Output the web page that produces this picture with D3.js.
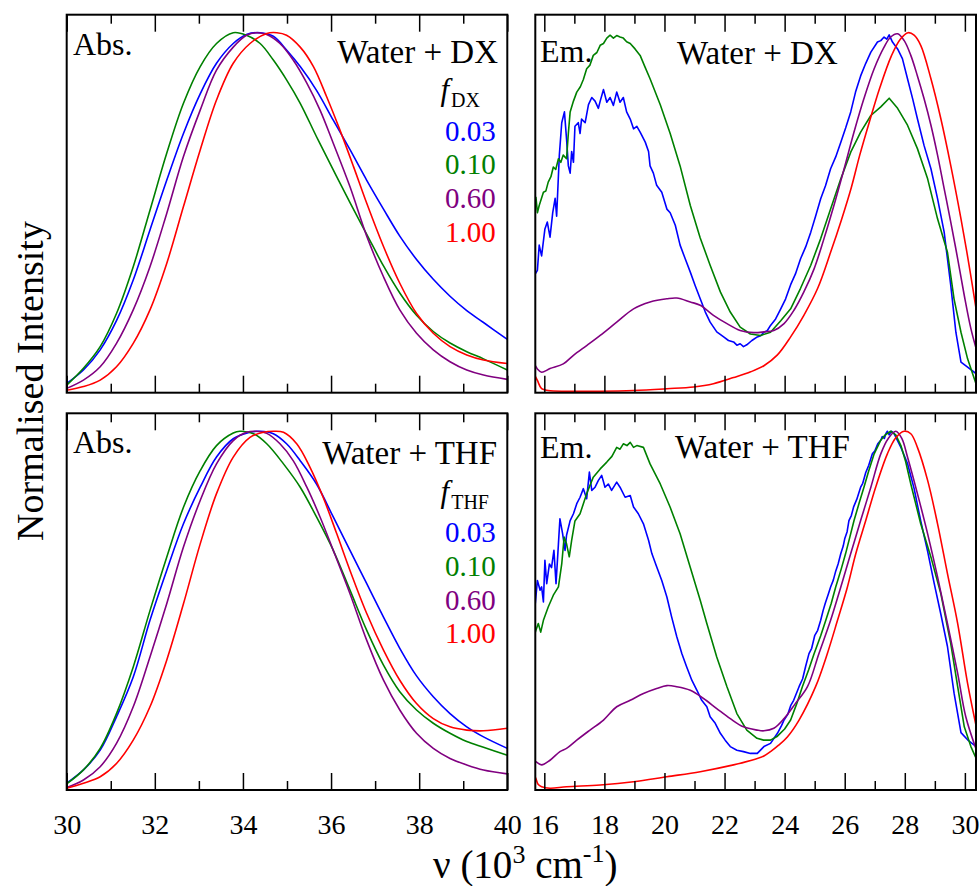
<!DOCTYPE html>
<html>
<head>
<meta charset="utf-8">
<script src="https://cdn.jsdelivr.net/npm/d3@7"></script>
<style>
  html, body { margin: 0; padding: 0; background: #ffffff; }
  svg text { font-family: "Liberation Serif", "Times New Roman", serif; }
</style>
</head>
<body>
<svg id="chart" width="980" height="886"></svg>
<script>
// ---- series styling and legend labels ----
const seriesColors = ["#0000ff", "#008000", "#800080", "#ff0000"];
const fractionLabels = ["0.03", "0.10", "0.60", "1.00"];

// ---- tick values ----
const absMajorTicks = [30, 32, 34, 36, 38, 40];
const absMinorTicks = [31, 33, 35, 37, 39];
const emMajorTicks = [16, 18, 20, 22, 24, 26, 28, 30];
const emMinorTicks = [17, 19, 21, 23, 25, 27, 29];

// ---- absorption, water + dioxane (wavenumber /1e3 cm^-1, normalised intensity) ----
const absDX003 = [[30,0.026],[30.38,0.063],[30.76,0.119],[31.13,0.20],[31.51,0.313],[31.89,0.452],[32.27,0.59],[32.65,0.72],[33.03,0.83],[33.4,0.915],[33.78,0.97],[34.08,0.995],[34.39,1.0],[34.69,0.99],[34.99,0.952],[35.3,0.906],[35.67,0.84],[36.05,0.757],[36.43,0.675],[36.81,0.59],[37.19,0.51],[37.56,0.435],[37.94,0.37],[38.32,0.315],[38.7,0.268],[39.08,0.228],[39.46,0.195],[40,0.148]];
const absDX010 = [[30,0.021],[30.38,0.068],[30.76,0.128],[31.13,0.22],[31.51,0.35],[31.89,0.507],[32.27,0.665],[32.65,0.804],[33.03,0.906],[33.4,0.97],[33.78,1.0],[34.08,0.993],[34.39,0.97],[34.69,0.924],[34.99,0.869],[35.3,0.804],[35.67,0.711],[36.05,0.619],[36.43,0.528],[36.81,0.44],[37.19,0.352],[37.56,0.277],[37.94,0.215],[38.32,0.17],[38.7,0.138],[39.08,0.114],[39.46,0.094],[40,0.063]];
const absDX060 = [[30,0.012],[30.38,0.035],[30.76,0.072],[31.13,0.137],[31.51,0.23],[31.89,0.35],[32.27,0.498],[32.65,0.656],[33.03,0.785],[33.4,0.896],[33.78,0.96],[34.08,0.993],[34.31,1.0],[34.54,0.995],[34.84,0.97],[35.14,0.924],[35.45,0.86],[35.75,0.785],[36.05,0.693],[36.43,0.572],[36.81,0.435],[37.19,0.322],[37.56,0.23],[37.94,0.165],[38.32,0.119],[38.7,0.086],[39.08,0.063],[39.46,0.049],[40,0.037]];
const absDX100 = [[30,0.007],[30.38,0.017],[30.76,0.035],[31.13,0.072],[31.51,0.137],[31.89,0.23],[32.27,0.359],[32.65,0.517],[33.03,0.674],[33.4,0.813],[33.78,0.915],[34.16,0.97],[34.54,0.998],[34.77,1.0],[34.99,0.993],[35.3,0.96],[35.6,0.906],[35.9,0.822],[36.2,0.73],[36.51,0.628],[36.81,0.526],[37.19,0.406],[37.56,0.304],[37.94,0.22],[38.32,0.165],[38.7,0.128],[39.08,0.105],[39.46,0.091],[40,0.081]];

// ---- absorption, water + THF ----
const absTHF003 = [[30,0.019],[30.38,0.056],[30.76,0.111],[31.13,0.204],[31.51,0.315],[31.89,0.473],[32.27,0.612],[32.65,0.742],[33.03,0.844],[33.4,0.928],[33.78,0.979],[34.16,0.997],[34.39,1.0],[34.69,0.993],[34.99,0.965],[35.3,0.918],[35.67,0.853],[36.05,0.761],[36.43,0.668],[36.81,0.575],[37.19,0.482],[37.56,0.395],[37.94,0.318],[38.32,0.26],[38.7,0.213],[39.08,0.176],[39.46,0.148],[40,0.116]];
const absTHF010 = [[30,0.017],[30.38,0.056],[30.76,0.116],[31.13,0.213],[31.51,0.343],[31.89,0.50],[32.27,0.649],[32.65,0.788],[33.03,0.89],[33.4,0.96],[33.78,0.995],[33.93,1.0],[34.24,0.993],[34.54,0.965],[34.92,0.909],[35.3,0.844],[35.67,0.761],[36.05,0.668],[36.43,0.557],[36.81,0.445],[37.19,0.348],[37.56,0.274],[37.94,0.223],[38.32,0.186],[38.7,0.158],[39.08,0.135],[39.46,0.119],[40,0.097]];
const absTHF060 = [[30,0.007],[30.38,0.028],[30.76,0.065],[31.13,0.13],[31.51,0.232],[31.89,0.371],[32.27,0.519],[32.65,0.677],[33.03,0.807],[33.4,0.909],[33.78,0.974],[34.08,0.997],[34.31,1.0],[34.54,0.994],[34.84,0.965],[35.14,0.918],[35.45,0.844],[35.75,0.761],[36.05,0.668],[36.43,0.547],[36.81,0.417],[37.19,0.306],[37.56,0.223],[37.94,0.158],[38.32,0.116],[38.7,0.088],[39.08,0.07],[39.46,0.056],[40,0.045]];
const absTHF100 = [[30,0.005],[30.38,0.019],[30.76,0.037],[31.13,0.074],[31.51,0.139],[31.89,0.232],[32.27,0.362],[32.65,0.519],[33.03,0.686],[33.4,0.826],[33.78,0.928],[34.16,0.983],[34.46,0.997],[34.69,1.0],[34.92,0.997],[35.22,0.965],[35.52,0.90],[35.82,0.816],[36.13,0.714],[36.43,0.612],[36.81,0.492],[37.19,0.39],[37.56,0.306],[37.94,0.241],[38.32,0.199],[38.7,0.176],[39.08,0.167],[39.46,0.165],[40,0.172]];

// ---- emission, water + dioxane ----
const emDX003 = [[15.7,0.33],[15.77,0.34],[15.83,0.41],[15.91,0.38],[16.02,0.455],[16.1,0.474],[16.19,0.432],[16.28,0.50],[16.36,0.54],[16.41,0.49],[16.5,0.66],[16.58,0.75],[16.67,0.78],[16.74,0.705],[16.8,0.63],[16.86,0.61],[16.91,0.67],[16.97,0.64],[17.02,0.74],[17.13,0.75],[17.19,0.72],[17.24,0.76],[17.36,0.75],[17.47,0.80],[17.58,0.82],[17.69,0.81],[17.8,0.79],[17.86,0.81],[17.97,0.842],[18.08,0.807],[18.19,0.82],[18.3,0.798],[18.41,0.835],[18.52,0.807],[18.63,0.82],[18.74,0.78],[18.86,0.76],[18.97,0.733],[19.08,0.74],[19.19,0.724],[19.36,0.696],[19.47,0.67],[19.52,0.63],[19.63,0.61],[19.74,0.576],[19.91,0.557],[20.08,0.51],[20.19,0.50],[20.36,0.465],[20.52,0.41],[20.69,0.372],[20.86,0.335],[21.02,0.298],[21.19,0.261],[21.36,0.224],[21.52,0.196],[21.74,0.169],[21.97,0.155],[22.13,0.145],[22.3,0.141],[22.41,0.132],[22.52,0.136],[22.63,0.128],[22.74,0.133],[22.91,0.145],[23.09,0.155],[23.2,0.158],[23.31,0.168],[23.42,0.172],[23.53,0.187],[23.7,0.205],[23.87,0.233],[24.03,0.26],[24.2,0.30],[24.36,0.33],[24.53,0.372],[24.7,0.405],[24.87,0.446],[25.03,0.49],[25.2,0.539],[25.36,0.575],[25.53,0.622],[25.7,0.655],[25.87,0.696],[26.03,0.735],[26.2,0.78],[26.36,0.835],[26.53,0.88],[26.7,0.915],[26.87,0.946],[27.09,0.974],[27.2,0.978],[27.31,0.988],[27.4,0.982],[27.48,0.994],[27.59,0.974],[27.76,0.955],[27.92,0.928],[28.09,0.872],[28.26,0.817],[28.42,0.761],[28.64,0.687],[28.87,0.622],[29.09,0.539],[29.31,0.446],[29.53,0.298],[29.7,0.168],[29.87,0.085],[30.09,0.071],[30.37,0.053]];
const emDX010 = [[15.72,0.544],[15.77,0.50],[15.83,0.52],[15.97,0.557],[16.05,0.56],[16.13,0.585],[16.22,0.60],[16.3,0.627],[16.38,0.62],[16.47,0.65],[16.55,0.64],[16.63,0.66],[16.74,0.65],[16.8,0.72],[16.86,0.78],[16.97,0.81],[17.08,0.835],[17.2,0.85],[17.3,0.87],[17.41,0.90],[17.52,0.91],[17.63,0.937],[17.75,0.945],[17.86,0.965],[17.97,0.97],[18.08,0.985],[18.19,0.993],[18.3,0.985],[18.41,0.992],[18.52,0.988],[18.63,0.985],[18.74,0.975],[18.86,0.97],[19.02,0.955],[19.19,0.937],[19.35,0.905],[19.52,0.872],[19.86,0.80],[20.19,0.72],[20.52,0.63],[20.86,0.52],[21.19,0.43],[21.52,0.354],[21.86,0.28],[22.19,0.224],[22.52,0.182],[22.86,0.163],[23.2,0.159],[23.53,0.168],[23.87,0.20],[24.2,0.233],[24.53,0.29],[24.87,0.354],[25.2,0.428],[25.53,0.51],[25.87,0.594],[26.2,0.668],[26.53,0.724],[26.87,0.77],[27.2,0.794],[27.48,0.818],[27.76,0.79],[28.09,0.743],[28.42,0.678],[28.76,0.594],[29.09,0.483],[29.42,0.39],[29.64,0.26],[29.87,0.168],[30.09,0.094],[30.37,0.025]];
const emDX060 = [[15.7,0.075],[15.77,0.066],[15.91,0.057],[16.19,0.067],[16.63,0.08],[16.97,0.104],[17.41,0.131],[17.86,0.159],[18.41,0.196],[18.97,0.233],[19.52,0.252],[20.08,0.261],[20.41,0.263],[20.86,0.252],[21.19,0.243],[21.63,0.215],[22.08,0.192],[22.52,0.173],[22.97,0.167],[23.31,0.169],[23.64,0.173],[23.98,0.192],[24.31,0.229],[24.64,0.28],[24.98,0.344],[25.31,0.428],[25.64,0.52],[25.98,0.622],[26.31,0.724],[26.64,0.817],[26.98,0.90],[27.31,0.96],[27.53,0.988],[27.76,0.997],[27.98,0.978],[28.2,0.937],[28.42,0.88],[28.64,0.817],[28.87,0.743],[29.09,0.66],[29.31,0.567],[29.53,0.474],[29.76,0.372],[29.98,0.27],[30.2,0.178],[30.39,0.118]];
const emDX100 = [[15.7,0.045],[15.77,0.034],[15.91,0.011],[16.13,0.006],[16.74,0.004],[17.86,0.004],[18.97,0.006],[20.08,0.011],[20.97,0.016],[21.63,0.025],[22.3,0.042],[22.87,0.058],[23.31,0.075],[23.76,0.105],[24.2,0.155],[24.64,0.215],[25.1,0.29],[25.53,0.39],[25.89,0.48],[26.22,0.57],[26.5,0.66],[26.83,0.755],[27.16,0.845],[27.55,0.935],[27.85,0.982],[28.11,1.0],[28.31,0.993],[28.53,0.965],[28.87,0.872],[29.2,0.761],[29.53,0.631],[29.87,0.483],[30.14,0.354],[30.39,0.224]];

// ---- emission, water + THF ----
const emTHF003 = [[15.7,0.52],[15.72,0.538],[15.77,0.584],[15.86,0.557],[15.91,0.566],[15.97,0.524],[16.02,0.64],[16.08,0.575],[16.17,0.63],[16.24,0.62],[16.32,0.668],[16.39,0.575],[16.47,0.686],[16.52,0.756],[16.61,0.714],[16.69,0.668],[16.74,0.71],[16.86,0.751],[16.97,0.77],[17.08,0.798],[17.19,0.816],[17.3,0.84],[17.41,0.812],[17.5,0.886],[17.58,0.835],[17.69,0.844],[17.8,0.863],[17.91,0.877],[18.02,0.844],[18.13,0.853],[18.24,0.835],[18.41,0.858],[18.52,0.844],[18.69,0.816],[18.86,0.821],[18.97,0.789],[19.13,0.77],[19.3,0.742],[19.47,0.696],[19.58,0.659],[19.74,0.622],[19.91,0.584],[20.08,0.538],[20.24,0.482],[20.41,0.427],[20.58,0.38],[20.74,0.343],[20.91,0.306],[21.08,0.278],[21.24,0.25],[21.41,0.232],[21.52,0.204],[21.69,0.186],[21.86,0.158],[22.02,0.139],[22.19,0.121],[22.41,0.111],[22.63,0.107],[22.86,0.102],[23.09,0.102],[23.31,0.121],[23.53,0.13],[23.76,0.158],[23.9,0.18],[23.98,0.195],[24.1,0.21],[24.2,0.235],[24.3,0.25],[24.48,0.288],[24.6,0.31],[24.7,0.345],[24.81,0.38],[24.9,0.395],[25.0,0.43],[25.1,0.445],[25.2,0.473],[25.28,0.50],[25.35,0.52],[25.45,0.545],[25.53,0.566],[25.62,0.585],[25.7,0.61],[25.78,0.63],[25.87,0.659],[25.95,0.68],[26.0,0.70],[26.08,0.72],[26.14,0.751],[26.22,0.765],[26.3,0.79],[26.4,0.81],[26.53,0.844],[26.6,0.855],[26.7,0.885],[26.8,0.905],[26.92,0.937],[27.0,0.945],[27.1,0.965],[27.2,0.975],[27.25,0.985],[27.32,0.98],[27.37,0.993],[27.42,1.0],[27.48,0.99],[27.55,1.0],[27.64,0.994],[27.75,0.975],[27.87,0.955],[28.09,0.91],[28.31,0.84],[28.53,0.75],[28.76,0.665],[28.98,0.575],[29.2,0.49],[29.42,0.40],[29.64,0.27],[29.87,0.16],[30.09,0.14],[30.39,0.12]];
const emTHF010 = [[15.7,0.44],[15.72,0.445],[15.8,0.464],[15.88,0.44],[15.97,0.473],[16.13,0.51],[16.3,0.543],[16.47,0.566],[16.58,0.63],[16.66,0.705],[16.74,0.686],[16.83,0.65],[16.91,0.696],[17.02,0.75],[17.19,0.77],[17.41,0.826],[17.63,0.872],[17.86,0.895],[18.08,0.914],[18.25,0.93],[18.41,0.955],[18.52,0.95],[18.63,0.965],[18.75,0.96],[18.86,0.969],[18.97,0.955],[19.08,0.96],[19.3,0.955],[19.52,0.909],[19.86,0.853],[20.19,0.788],[20.52,0.714],[20.86,0.62],[21.19,0.529],[21.41,0.464],[21.74,0.371],[22.08,0.288],[22.41,0.213],[22.74,0.167],[23.08,0.144],[23.3,0.139],[23.53,0.139],[23.76,0.15],[24.0,0.17],[24.2,0.195],[24.4,0.24],[24.59,0.288],[24.8,0.335],[24.98,0.38],[25.2,0.43],[25.37,0.473],[25.55,0.52],[25.7,0.566],[25.88,0.615],[26.03,0.659],[26.17,0.705],[26.31,0.751],[26.48,0.80],[26.64,0.844],[26.8,0.89],[26.98,0.937],[27.2,0.975],[27.35,0.99],[27.53,1.0],[27.7,0.99],[27.87,0.96],[28.03,0.915],[28.2,0.853],[28.53,0.742],[28.87,0.649],[29.2,0.547],[29.53,0.408],[29.76,0.288],[29.98,0.176],[30.2,0.121],[30.39,0.085]];
const emTHF060 = [[15.7,0.08],[15.72,0.079],[15.91,0.07],[16.19,0.083],[16.52,0.107],[16.74,0.116],[17.08,0.139],[17.52,0.167],[17.97,0.195],[18.41,0.232],[18.86,0.25],[19.3,0.269],[19.74,0.283],[20.08,0.291],[20.41,0.288],[20.86,0.278],[21.3,0.255],[21.74,0.227],[22.19,0.199],[22.63,0.176],[23.08,0.167],[23.31,0.165],[23.64,0.172],[23.98,0.199],[24.35,0.24],[24.76,0.288],[25.14,0.38],[25.53,0.473],[25.87,0.566],[26.2,0.659],[26.53,0.751],[26.87,0.844],[27.2,0.937],[27.45,0.98],[27.7,1.0],[27.9,0.98],[28.09,0.928],[28.42,0.826],[28.76,0.714],[29.09,0.594],[29.42,0.464],[29.76,0.325],[30.03,0.204],[30.39,0.11]];
const emTHF100 = [[15.7,0.035],[15.72,0.032],[15.8,0.015],[15.91,0.009],[16.19,0.005],[16.74,0.009],[17.86,0.014],[18.97,0.023],[20.08,0.037],[21.19,0.051],[22.3,0.07],[22.87,0.082],[23.31,0.095],[23.53,0.107],[23.8,0.125],[24.09,0.148],[24.48,0.195],[25.03,0.288],[25.42,0.38],[25.76,0.473],[26.09,0.566],[26.37,0.659],[26.7,0.751],[27.03,0.844],[27.42,0.937],[27.7,0.982],[27.98,1.0],[28.2,0.993],[28.42,0.955],[28.76,0.863],[29.09,0.742],[29.42,0.603],[29.76,0.464],[30.09,0.297],[30.39,0.172]];

// ---- panel layout ----
const panels = [
  { left: 66.7,  right: 507.3, top: 14.7,  bottom: 392.7, xDomain: [30, 40],
    major: absMajorTicks, minor: absMinorTicks, lines: [absDX003, absDX010, absDX060, absDX100],
    smooth: [true, true, true, true], showLabels: false },
  { left: 535.3, right: 976,   top: 14.7,  bottom: 392.7, xDomain: [15.7, 30.37],
    major: emMajorTicks, minor: emMinorTicks, lines: [emDX003, emDX010, emDX060, emDX100],
    smooth: [false, false, true, true], showLabels: false },
  { left: 66.7,  right: 507.3, top: 413.3, bottom: 790,   xDomain: [30, 40],
    major: absMajorTicks, minor: absMinorTicks, lines: [absTHF003, absTHF010, absTHF060, absTHF100],
    smooth: [true, true, true, true], showLabels: true },
  { left: 535.3, right: 976,   top: 413.3, bottom: 790,   xDomain: [15.7, 30.37],
    major: emMajorTicks, minor: emMinorTicks, lines: [emTHF003, emTHF010, emTHF060, emTHF100],
    smooth: [false, false, true, true], showLabels: true }
];

const svg = d3.select("#chart");
const defs = svg.append("defs");

panels.forEach((p, i) => {
  const x = d3.scaleLinear().domain(p.xDomain).range([p.left, p.right]);
  const y = d3.scaleLinear().domain([0, 1.05]).range([p.bottom, p.top]);

  defs.append("clipPath").attr("id", "clip" + i)
    .append("rect")
    .attr("x", p.left).attr("y", p.top)
    .attr("width", p.right - p.left).attr("height", p.bottom - p.top);

  const g = svg.append("g");
  const plot = g.append("g").attr("clip-path", `url(#clip${i})`);

  p.lines.forEach((data, k) => {
    const line = d3.line()
      .x(d => x(d[0]))
      .y(d => y(d[1]))
      .curve(p.smooth[k] ? d3.curveCatmullRom.alpha(0.5) : d3.curveLinear);
    plot.append("path")
      .datum(data)
      .attr("d", line)
      .attr("fill", "none")
      .attr("stroke", seriesColors[k])
      .attr("stroke-width", 1.6)
      .attr("stroke-linejoin", "round");
  });

  // inward ticks on top and bottom edges
  const tickSets = [[p.major, 17], [p.minor, 9]];
  tickSets.forEach(([vals, len]) => {
    g.append("g").attr("transform", `translate(0,${p.bottom})`)
      .call(d3.axisTop(x).tickValues(vals).tickSize(len).tickFormat(""))
      .call(a => a.select(".domain").remove())
      .call(a => a.selectAll("line").attr("stroke", "#000").attr("stroke-width", 1.5));
    g.append("g").attr("transform", `translate(0,${p.top})`)
      .call(d3.axisBottom(x).tickValues(vals).tickSize(len).tickFormat(""))
      .call(a => a.select(".domain").remove())
      .call(a => a.selectAll("line").attr("stroke", "#000").attr("stroke-width", 1.5));
  });

  if (p.showLabels) {
    g.append("g").attr("transform", `translate(0,${p.bottom})`)
      .call(d3.axisBottom(x).tickValues(p.major).tickSize(0).tickPadding(24).tickFormat(d3.format("d")))
      .call(a => a.select(".domain").remove())
      .call(a => a.selectAll("text")
        .attr("font-family", '"Liberation Serif", serif')
        .attr("font-size", 28).attr("fill", "#000"));
  }

  g.append("rect")
    .attr("x", p.left).attr("y", p.top)
    .attr("width", p.right - p.left).attr("height", p.bottom - p.top)
    .attr("fill", "none").attr("stroke", "#000").attr("stroke-width", 2);
});

// ---- panel annotations ----
function label(xp, yp, txt, size, anchor, color) {
  return svg.append("text").attr("x", xp).attr("y", yp)
    .attr("font-size", size).attr("text-anchor", anchor || "start")
    .attr("fill", color || "#000").text(txt);
}

label(73, 55, "Abs.", 32);
label(498, 63, "Water + DX", 33, "end");
label(73, 452.7, "Abs.", 32);
label(497, 464, "Water + THF", 33, "end");
label(540, 62, "Em.", 32);
label(677, 64, "Water + DX", 33);
label(540, 457.7, "Em.", 32);
label(675, 457.7, "Water + THF", 33);

// legend titles with subscript
function fracTitle(xp, yp, sub) {
  const t = svg.append("text").attr("x", xp).attr("y", yp).attr("text-anchor", "end").attr("fill", "#000");
  t.append("tspan").attr("font-size", 31).attr("font-style", "italic").text("f");
  t.append("tspan").attr("font-size", 20).attr("dy", 7).attr("dx", 2).text(sub);
}
fracTitle(480, 100, "DX");
fracTitle(489, 501.7, "THF");

const legendRowsTop = [140.7, 174.3, 208.3, 241.7];
const legendRowsBottom = [541.7, 576, 610, 643.3];
fractionLabels.forEach((s, k) => {
  label(495.7, legendRowsTop[k], s, 29, "end", seriesColors[k]);
  label(495.7, legendRowsBottom[k], s, 29, "end", seriesColors[k]);
});

// ---- axis titles ----
svg.append("text")
  .attr("transform", "translate(43,381) rotate(-90)")
  .attr("text-anchor", "middle").attr("font-size", 38).attr("fill", "#000")
  .text("Normalised Intensity");

const xt = svg.append("text").attr("x", 433).attr("y", 878).attr("font-size", 39).attr("fill", "#000");
xt.append("tspan").text("\u03bd (10");
xt.append("tspan").attr("font-size", 26).attr("dy", -15).text("3");
xt.append("tspan").attr("dy", 15).text(" cm");
xt.append("tspan").attr("font-size", 26).attr("dy", -16).text("-1");
xt.append("tspan").attr("dy", 16).text(")");
</script>
</body>
</html>
